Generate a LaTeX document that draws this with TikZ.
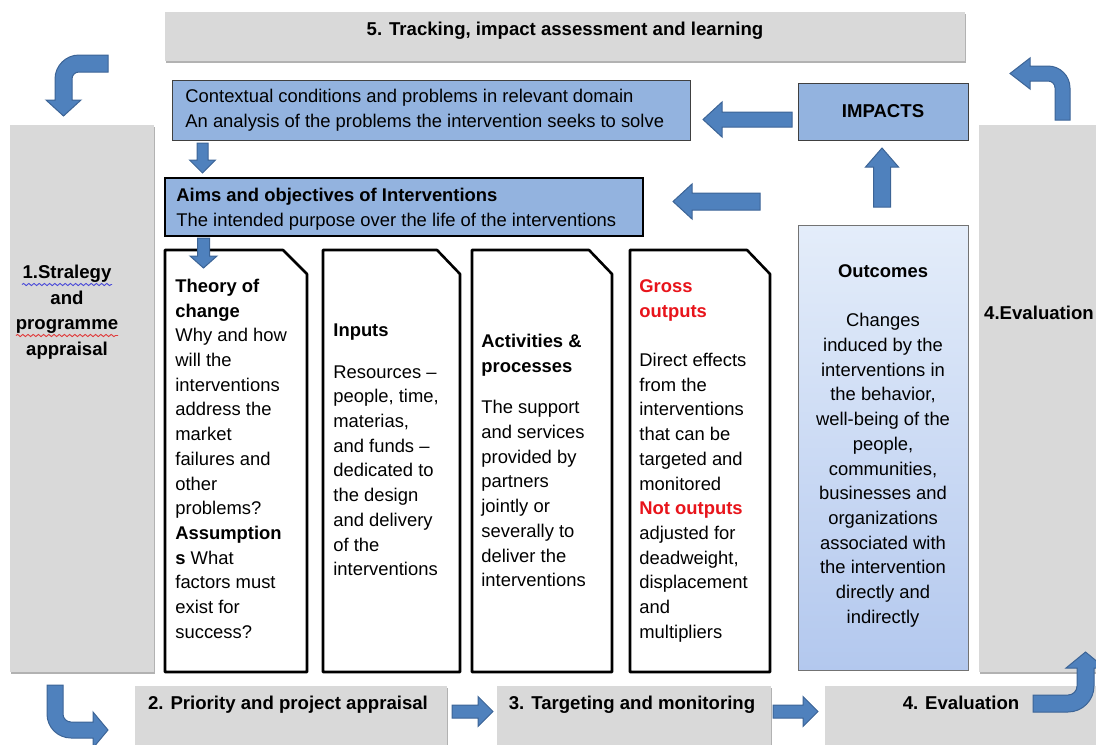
\documentclass[tikz,border=0pt]{standalone}
\usepackage{fontspec}
\setmainfont{Liberation Sans}
\usetikzlibrary{shadows,fit,decorations.pathmorphing}

\definecolor{graybox}{HTML}{D9D9D9}
\definecolor{bluebox}{HTML}{93B3DF}
\definecolor{arrowfill}{HTML}{4F81BD}
\definecolor{arrowline}{HTML}{3C6496}
\definecolor{outtop}{HTML}{E4EDFA}
\definecolor{outbot}{HTML}{B3C8EE}
\definecolor{redtext}{HTML}{E8141B}
\definecolor{spellblue}{HTML}{4A4AD8}
\definecolor{spellred}{HTML}{E03A3A}

% strut that fixes the top of a text block one em above its first baseline
\newcommand\topstrut{\rule{0pt}{1em}}

% straight block arrow: tail (x,y), angle, length, shaft half width, head half width, head length
\newcommand\blockarrow[7]{%
  \draw[barrow, shift={(#1,#2)}, rotate=#3]
    (0,-#5) -- ({#4-#7},-#5) -- ({#4-#7},-#6) -- (#4,0) -- ({#4-#7},#6) -- ({#4-#7},#5) -- (0,#5) -- cycle;}

\tikzset{
  graybar/.style={draw=none, fill=graybox, inner sep=0pt,
    drop shadow={shadow xshift=0.4pt, shadow yshift=-1.2pt, fill=black, opacity=0.3}},
  blueframe/.style={draw=black!75, line width=0.5pt, fill=bluebox, inner sep=0pt},
  aimsframe/.style={draw=black, line width=1.2pt, fill=bluebox, inner sep=0pt},
  outframe/.style={draw=black!55, line width=0.5pt, top color=outtop, bottom color=outbot, inner sep=0pt},
  stagebox/.style={draw=black, line width=1.3pt, fill=white, line join=round},
  barrow/.style={fill=arrowfill, draw=arrowline, line width=0.5pt, line join=miter},
  body/.style={font=\fontsize{9.2pt}{12.35pt}\selectfont, inner sep=0pt, align=left, anchor=north west},
  bodyc/.style={font=\fontsize{9.2pt}{12.35pt}\selectfont, inner sep=0pt, align=center, anchor=north},
  bartext/.style={font=\fontsize{9.3pt}{11pt}\selectfont\bfseries, inner sep=0pt, anchor=base},
  spell/.style={line width=0.45pt, decorate, decoration={snake, amplitude=0.55pt, segment length=2.6pt}}
}

\begin{document}
\begin{tikzpicture}[x=0.5pt, y=-0.5pt]
\useasboundingbox (0,0) rectangle (1096,744);
\clip (0,0) rectangle (1096,744);

% ---------- grey process frame ----------
\node[graybar, fit={(165,12) (965,61)}] (track) {};
\node[graybar, fit={(10,125) (154,672)}] (strategy) {};
\node[graybar, fit={(979,125) (1104,672)}] (evalside) {};
\node[graybar, fit={(135,686) (447,752)}] (priority) {};
\node[graybar, fit={(497,686) (771,752)}] (targeting) {};
\node[graybar, fit={(825,686) (1104,752)}] (evalbottom) {};

\node[bartext] (tracktxt) at (565,35.5) {5. Tracking, impact assessment and learning};
\node[bartext] (prioritytxt) at (288,709.5) {2. Priority and project appraisal};
\node[bartext] (targetingtxt) at (632,709.5) {3. Targeting and monitoring};
\node[bartext] (evalbottomtxt) at (961,709.5) {4. Evaluation};
\node[bartext] (evalsidetxt) at (1039,319) {4.Evaluation};
\node[font=\fontsize{9.3pt}{12.75pt}\selectfont\bfseries, inner sep=0pt, align=center, anchor=north]
  (strategytxt) at (67,259.6) {\topstrut 1.Stralegy\\ and\\ programme\\ appraisal};
\draw[spell, spellblue] (22,284.5) -- (112,284.5);
\draw[spell, spellred] (16,335.5) -- (118,335.5);

% ---------- bent arrows in the corners ----------
\draw[barrow] (108,55) -- (79,55) .. controls (65.8,55) and (55,65.8) .. (55,79) -- (55,100)
  -- (46,100) -- (63.5,116) -- (81,100) -- (72,100) -- (72,79)
  .. controls (72,75.1) and (75.1,72) .. (79,72) -- (108,72) -- cycle;
\draw[barrow] (1055,120) -- (1070,120) -- (1070,88) .. controls (1070,75.9) and (1060.1,66) .. (1048,66)
  -- (1030,66) -- (1030,58) -- (1010,73.5) -- (1030,89) -- (1030,81) -- (1048,81)
  .. controls (1051.9,81) and (1055,84.1) .. (1055,88) -- cycle;
\draw[barrow] (47,685) -- (63,685) -- (63,714) .. controls (63,718.4) and (66.6,722) .. (71,722)
  -- (93,722) -- (93,712) -- (108,730) -- (93,748) -- (93,738) -- (71,738)
  .. controls (57.7,738) and (47,727.3) .. (47,714) -- cycle;
\draw[barrow] (1033,695) -- (1068,695) .. controls (1073,695) and (1077,691) .. (1077,686)
  -- (1077,668) -- (1066,668) -- (1085.5,652) -- (1105,668) -- (1094,668) -- (1094,686)
  .. controls (1094,700.4) and (1082.4,712) .. (1068,712) -- (1033,712) -- cycle;

% ---------- logic model ----------
\node[blueframe, fit={(172,80) (690,140)}] (context) {};
\node[body] (contexttxt) at (185,83.6) {\topstrut Contextual conditions and problems in relevant domain\\
  An analysis of the problems the intervention seeks to solve};

\node[blueframe, fit={(798,83) (968,140)}] (impacts) {};
\node[bartext] (impactstxt) at (impacts.center) [yshift=-3.2pt] {IMPACTS};

\node[aimsframe, fit={(165,178) (643,236)}] (aims) {};
\node[body] (aimstxt) at (176,182.6) {\topstrut\textbf{Aims and objectives of Interventions}\\
  The intended purpose over the life of the interventions};

\node[outframe, fit={(798,225) (968,670)}] (outcomes) {};
\node[bodyc] (outcomestxt) at (883,258.6) {\topstrut\textbf{Outcomes}\\[\baselineskip]
  Changes\\ induced by the\\ interventions in\\ the behavior,\\ well-being of the\\ people,\\
  communities,\\ businesses and\\ organizations\\ associated with\\ the intervention\\
  directly and\\ indirectly};

% stage boxes with a cut corner
\draw[stagebox] (165,250) -- (283,250) -- (307,274) -- (307,672) -- (165,672) -- cycle;
\draw[stagebox] (323,250) -- (437,250) -- (460,274) -- (460,672) -- (323,672) -- cycle;
\draw[stagebox] (472,250) -- (589,250) -- (612,274) -- (612,672) -- (472,672) -- cycle;
\draw[stagebox] (630,250) -- (747,250) -- (770,274) -- (770,672) -- (630,672) -- cycle;

\node[body] (theorytxt) at (175,273.6) {\topstrut\textbf{Theory of}\\ \textbf{change}\\ Why and how\\
  will the\\ interventions\\ address the\\ market\\ failures and\\ other\\ problems?\\
  \textbf{Assumption}\\ \textbf{s} What\\ factors must\\ exist for\\ success?};
\node[body] (inputstxt) at (333,317.6) {\topstrut\textbf{Inputs}\\[8.5pt] Resources –\\ people, time,\\
  materias,\\ and funds –\\ dedicated to\\ the design\\ and delivery\\ of the\\ interventions};
\node[body] (activitytxt) at (481,328.6) {\topstrut\textbf{Activities \&}\\ \textbf{processes}\\[8.5pt]
  The support\\ and services\\ provided by\\ partners\\ jointly or\\ severally to\\ deliver the\\ interventions};
\node[body] (outputstxt) at (639,273.6) {\topstrut\textcolor{redtext}{\textbf{Gross}}\\
  \textcolor{redtext}{\textbf{outputs}}\\[\baselineskip] Direct effects\\ from the\\ interventions\\
  that can be\\ targeted and\\ monitored\\ \textcolor{redtext}{\textbf{Not outputs}}\\ adjusted for\\
  deadweight,\\ displacement\\ and\\ multipliers};

% ---------- block arrows ----------
\blockarrow{792}{119.5}{180}{89}{7.5}{17.5}{19}
\blockarrow{760}{201.5}{180}{87}{8.5}{17.5}{19}
\blockarrow{882}{207}{90}{59}{8.5}{16.5}{19}
\blockarrow{202.5}{143}{-90}{30}{5.5}{13}{13}
\blockarrow{203.5}{238}{-90}{30}{6}{13.5}{12}
\blockarrow{452}{711.5}{0}{41}{6.5}{15}{15}
\blockarrow{773}{711.5}{0}{45}{6.5}{15}{15}
\end{tikzpicture}
\end{document}
